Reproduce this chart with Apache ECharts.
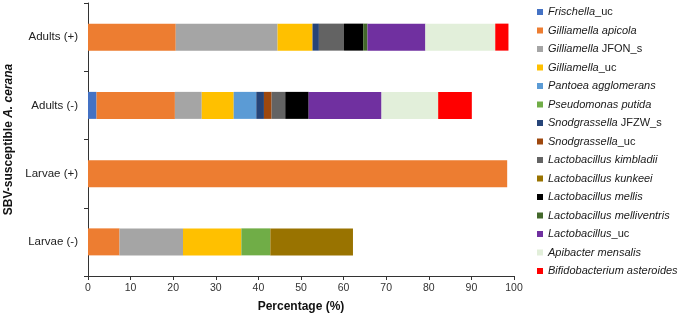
<!DOCTYPE html>
<html>
<head>
<meta charset="utf-8">
<script src="https://cdn.jsdelivr.net/npm/echarts@6/dist/echarts.min.js"></script>
<style>html,body{margin:0;padding:0;background:#fff}#c{width:685px;height:321px}</style>
</head>
<body>
<div id="c"></div>
<script>
// Categories (top to bottom)
const categories = ['Adults (+)', 'Adults (-)', 'Larvae (+)', 'Larvae (-)'];
// Taxa (legend order)
const taxa = ['Frischella_uc','Gilliamella apicola','Gilliamella JFON_s','Gilliamella_uc','Pantoea agglomerans','Pseudomonas putida','Snodgrassella JFZW_s','Snodgrassella_uc','Lactobacillus kimbladii','Lactobacillus kunkeei','Lactobacillus mellis','Lactobacillus melliventris','Lactobacillus_uc','Apibacter mensalis','Bifidobacterium asteroides'];
// Legend labels with italic parts
const taxaLabels = ['{i|Frischella}_uc','{i|Gilliamella apicola}','{i|Gilliamella} JFON_s','{i|Gilliamella}_uc','{i|Pantoea agglomerans}','{i|Pseudomonas putida}','{i|Snodgrassella} JFZW_s','{i|Snodgrassella}_uc','{i|Lactobacillus kimbladii}','{i|Lactobacillus kunkeei}','{i|Lactobacillus mellis}','{i|Lactobacillus melliventris}','{i|Lactobacillus}_uc','{i|Apibacter mensalis}','{i|Bifidobacterium asteroides}'];
const colors = ['#4472C4','#ED7D31','#A5A5A5','#FFC000','#5B9BD5','#70AD47','#264478','#9E480E','#636363','#997300','#000000','#43682B','#7030A0','#E2EFDA','#FF0000'];
// Values per taxon: [Adults(+), Adults(-), Larvae(+), Larvae(-)] in %
const frischella_uc   = [0,    2.0,  0,    0];
const g_apicola       = [20.6, 18.4, 98.4, 7.4];
const g_jfon          = [23.9, 6.3,  0,    14.9];
const g_uc            = [8.2,  7.5,  0,    13.7];
const pantoea         = [0,    5.3,  0,    0];
const pseudomonas     = [0,    0,    0,    6.8];
const s_jfzw          = [1.5,  1.8,  0,    0];
const s_uc            = [0,    1.8,  0,    0];
const l_kimbladii     = [5.9,  3.2,  0,    0];
const l_kunkeei       = [0,    0,    0,    19.4];
const l_mellis        = [4.5,  5.5,  0,    0];
const l_melliventris  = [1.0,  0,    0,    0];
const l_uc            = [13.6, 17.1, 0,    0];
const apibacter       = [16.4, 13.3, 0,    0];
const bifido          = [3.1,  7.9,  0,    0];
const values = [frischella_uc,g_apicola,g_jfon,g_uc,pantoea,pseudomonas,s_jfzw,s_uc,l_kimbladii,l_kunkeei,l_mellis,l_melliventris,l_uc,apibacter,bifido];
const xTicks = {min:0, max:100, interval:10};

const FF = '"Liberation Sans", Arial, sans-serif';
const chart = echarts.init(document.getElementById('c'), null, {renderer:'canvas'});
chart.setOption({
  animation:false,
  backgroundColor:'#fff',
  grid:{left:88, right:171, top:3, bottom:45, containLabel:false, outerBoundsMode:'none'},
  legend:{
    orient:'vertical', left:532, top:0, itemWidth:6, itemHeight:6, itemGap:4.5,
    icon:'rect',
    data:taxa,
    formatter:function(n){return taxaLabels[taxa.indexOf(n)];},
    textStyle:{fontFamily:FF, fontSize:11, color:'#1a1a1a', lineHeight:14,
      rich:{i:{fontStyle:'italic', fontFamily:FF, fontSize:11, color:'#1a1a1a', lineHeight:14}}}
  },
  xAxis:{
    type:'value', min:xTicks.min, max:xTicks.max, interval:xTicks.interval,
    name:'Percentage (%)', nameLocation:'middle', nameGap:25,
    nameTextStyle:{fontFamily:FF, fontSize:12, fontWeight:'bold', color:'#111'},
    axisLine:{show:true, lineStyle:{color:'#333', width:1}},
    axisTick:{show:true, length:4, lineStyle:{color:'#333'}},
    axisLabel:{fontFamily:FF, fontSize:10.5, color:'#333', margin:7},
    splitLine:{show:false}
  },
  yAxis:{
    type:'category', data:categories, inverse:true,
    name:'SBV-susceptible {i|A. cerana}', nameLocation:'middle', nameRotate:90, nameGap:73,
    nameTextStyle:{fontFamily:FF, fontSize:12, fontWeight:'bold', color:'#111',
      rich:{i:{fontFamily:FF, fontSize:12, fontWeight:'bold', fontStyle:'italic', color:'#111'}}},
    axisLine:{show:true, lineStyle:{color:'#333', width:1}},
    axisTick:{show:true, length:4, alignWithLabel:false, lineStyle:{color:'#333'}},
    axisLabel:{fontFamily:FF, fontSize:11.5, color:'#222', margin:10}
  },
  series:taxa.map(function(name,i){
    return {name:name, type:'bar', stack:'total', barWidth:27,
      itemStyle:{color:colors[i]}, data:values[i]};
  })
});
</script>
</body>
</html>
